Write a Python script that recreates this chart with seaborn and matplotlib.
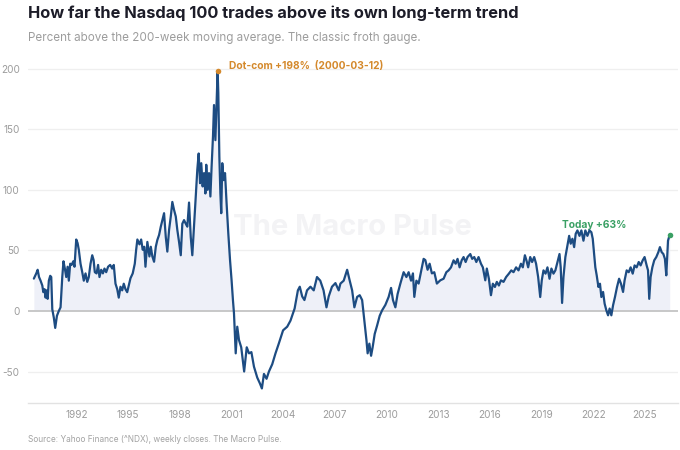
import numpy as np
import pandas as pd
import matplotlib
matplotlib.use("Agg")
import matplotlib.pyplot as plt
import seaborn as sns

# ---- data (decimal year, % above 200-week MA) ----
years = [
    # 1989-1995
    1989.52, 1989.66, 1989.74, 1989.82, 1989.91, 1990.01, 1990.07, 1990.14, 1990.20, 1990.26,
    1990.32, 1990.39, 1990.47, 1990.53, 1990.59, 1990.68, 1990.76, 1990.86, 1990.97, 1991.07,
    1991.17, 1991.24, 1991.32, 1991.40, 1991.48, 1991.55, 1991.63, 1991.71, 1991.81, 1991.88,
    1991.98, 1992.06, 1992.13, 1992.23, 1992.33, 1992.42, 1992.52, 1992.62, 1992.71, 1992.81,
    1992.91, 1992.99, 1993.06, 1993.16, 1993.25, 1993.33, 1993.43, 1993.53, 1993.62, 1993.72,
    1993.83, 1993.95, 1994.07, 1994.16, 1994.26, 1994.36, 1994.45, 1994.55, 1994.65, 1994.74,
    1994.84, 1994.94, 1995.03, 1995.13, 1995.26, 1995.38, 1995.46, 1995.53, 1995.65, 1995.75,
    1995.84, 1995.93,
    # 1996-2001
    1996.00, 1996.11, 1996.23, 1996.31, 1996.40, 1996.50, 1996.60, 1996.69, 1996.79, 1996.89,
    1996.98, 1997.08, 1997.18, 1997.27, 1997.37, 1997.47, 1997.56, 1997.66, 1997.76, 1997.85,
    1997.95, 1998.05, 1998.14, 1998.24, 1998.34, 1998.43, 1998.53, 1998.63, 1998.72, 1998.82,
    1998.92, 1999.01, 1999.09, 1999.17, 1999.24, 1999.32, 1999.40, 1999.48, 1999.53, 1999.61,
    1999.69, 1999.77, 1999.84, 1999.92, 1999.98, 2000.06, 2000.13, 2000.17, 2000.19, 2000.23,
    2000.29, 2000.35, 2000.40, 2000.46, 2000.54, 2000.62, 2000.71, 2000.81, 2000.91, 2001.00,
    2001.08,
    # 2001-2013
    2001.14, 2001.24, 2001.33, 2001.43, 2001.56, 2001.73, 2001.88, 2002.01, 2002.15, 2002.30,
    2002.49, 2002.65, 2002.76, 2002.88, 2003.03, 2003.17, 2003.36, 2003.55, 2003.74, 2003.99,
    2004.23, 2004.42, 2004.66, 2004.85, 2004.96, 2005.10, 2005.23, 2005.38, 2005.58, 2005.77,
    2005.96, 2006.15, 2006.34, 2006.51, 2006.64, 2006.83, 2007.03, 2007.22, 2007.32, 2007.51,
    2007.71, 2007.86, 2008.00, 2008.13, 2008.29, 2008.44, 2008.58, 2008.71, 2008.83, 2008.90,
    2009.00, 2009.10, 2009.19, 2009.31, 2009.45, 2009.60, 2009.74, 2009.93, 2010.12, 2010.26,
    2010.37, 2010.51, 2010.64, 2010.80, 2010.99, 2011.15, 2011.28, 2011.42, 2011.53, 2011.61,
    2011.73, 2011.86, 2012.02, 2012.15, 2012.25, 2012.38, 2012.50, 2012.63, 2012.77, 2012.92,
    # 2013-2026
    2013.12, 2013.31, 2013.47, 2013.60, 2013.74, 2013.89, 2014.01, 2014.12, 2014.24, 2014.36,
    2014.47, 2014.59, 2014.70, 2014.86, 2014.97, 2015.09, 2015.21, 2015.34, 2015.48, 2015.59,
    2015.73, 2015.82, 2015.94, 2016.06, 2016.17, 2016.29, 2016.40, 2016.52, 2016.64, 2016.79,
    2016.94, 2017.10, 2017.24, 2017.37, 2017.52, 2017.66, 2017.80, 2017.91, 2018.03, 2018.12,
    2018.22, 2018.34, 2018.45, 2018.57, 2018.68, 2018.80, 2018.92, 2019.01, 2019.11, 2019.23,
    2019.34, 2019.46, 2019.57, 2019.69, 2019.80, 2019.92, 2020.04, 2020.11, 2020.19, 2020.27,
    2020.38, 2020.50, 2020.60, 2020.69, 2020.79, 2020.89, 2020.98, 2021.08, 2021.20, 2021.31,
    2021.43, 2021.54, 2021.66, 2021.78, 2021.89, 2021.97, 2022.05, 2022.12, 2022.20, 2022.30,
    2022.39, 2022.47, 2022.57, 2022.66, 2022.76, 2022.86, 2022.95, 2023.05, 2023.15, 2023.26,
    2023.38, 2023.50, 2023.61, 2023.73, 2023.82, 2023.94, 2024.06, 2024.17, 2024.29, 2024.40,
    2024.52, 2024.64, 2024.75, 2024.87, 2024.98, 2025.10, 2025.18, 2025.25, 2025.33, 2025.43,
    2025.54, 2025.66, 2025.78, 2025.87, 2025.97, 2026.07, 2026.16, 2026.24, 2026.34, 2026.44,
]
pct_above = [
    # 1989-1995
    26.7, 31, 34, 28, 25, 21, 15.5, 18, 11, 17,
    10, 25, 29, 28, 1.4, -5.6, -14, -4, 0, 3,
    28, 41, 35, 28, 36.5, 25, 39, 38, 41, 36.5,
    59, 56, 50.5, 39, 32, 25, 31, 24, 28, 39,
    46, 42, 32, 31, 38, 28, 34, 31, 35, 32,
    36.5, 38, 35, 38, 22.5, 18, 11, 20, 17, 22.5,
    18, 15.5, 21, 27, 31, 39, 50.5, 59, 55, 59,
    50.5, 53,
    # 1996-2001
    36.5, 57, 45, 53, 45, 40.6, 53, 58.6, 62.7, 69.6,
    75, 80.7, 61, 49, 66.9, 78, 90, 83.4, 78, 66.9,
    57, 46, 72, 75, 72, 69.6, 89.5, 61, 46, 69.6,
    94.5, 116.6, 130, 105.5, 122, 102.8, 113.8, 97, 120.7, 100,
    113.8, 94.5, 119, 144, 170, 141, 173, 190, 198, 180,
    127.6, 97, 80.7, 122, 108, 113.8, 89, 64, 42, 25.4,
    8.8,
    # 2001-2013
    -2, -35, -13, -24, -30, -50, -30, -35, -34, -46,
    -55, -60, -64, -52, -56, -50, -44, -35, -27, -16,
    -13, -8, 2, 17, 20, 12, 9, 17, 20, 17,
    28, 25, 17, 3, 12, 20, 23, 17, 22.6, 25,
    34, 25, 17, 3, 11.6, 13, 9, -8, -24, -35,
    -27, -37, -30, -19, -12, -4, 0.5, 5, 11.6, 19,
    9, 3, 14, 22.6, 32, 28, 32, 25, 31, 11.6,
    25, 22.6, 34, 43, 42, 34, 39, 31, 32, 22.6,
    # 2013-2026
    25.3, 26.6, 32, 33.5, 36, 41.8, 39, 43, 36, 41.8,
    44.5, 40.4, 44.5, 47, 43, 44.5, 40.4, 44.5, 39, 36,
    25.3, 35, 26.6, 13, 22.5, 19.8, 24, 21, 25.3, 24,
    28, 30.8, 33.5, 32, 36, 33.5, 39, 36, 46, 41.8,
    36, 44.5, 40.4, 44.5, 39, 28, 11.5, 25.3, 33.5, 30.8,
    36, 26.6, 35, 30.8, 33.5, 40.4, 47, 36, 6.6, 28,
    44.5, 54, 62, 55.5, 59.6, 52.7, 63.7, 66.5, 62, 66.5,
    58, 66.5, 62, 66.5, 65, 59.6, 47, 36, 29.4, 19.8,
    22.5, 11.5, 15.7, 6, 0.5, -3.6, 2, -3.6, 4.7, 11.5,
    19.8, 26.6, 22.5, 15.7, 25.3, 33.5, 32, 36, 30.8, 37.6,
    36, 40.4, 37.6, 41.8, 44.5, 37.6, 33.5, 10, 28, 36,
    41.8, 44.5, 48.6, 52.7, 48.6, 47, 43, 29.4, 58, 63,
]
tick_years = [1992, 1995, 1998, 2001, 2004, 2007, 2010, 2013, 2016, 2019, 2022, 2025]
y_ticks = [-50, 0, 50, 100, 150, 200]
peak_year, peak_value = 2000.19, 198
today_year, today_value = 2026.44, 63

df = pd.DataFrame({"year": years, "pct": pct_above})

sns.set_theme(style="white")
plt.rcParams["font.family"] = ["Inter", "DejaVu Sans"]
plt.rcParams["axes.unicode_minus"] = False

fig = plt.figure(figsize=(6.8, 4.5), dpi=100)
ax = fig.add_axes([28 / 680, 1 - 403 / 450, 650 / 680, 346.4 / 450])

LINE = "#1d4c82"
ax.fill_between(df["year"], 0, df["pct"].clip(lower=0), color="#eef0f8", lw=0, zorder=1)
sns.lineplot(data=df, x="year", y="pct", ax=ax, color=LINE, lw=1.6, zorder=4)

ax.set_xlim(1989.18, 2026.92)
ax.set_ylim(-76, 210)
ax.set_xticks(tick_years)
ax.set_xticklabels([str(t) for t in tick_years])
ax.set_yticks(y_ticks)
ax.set_yticklabels([str(t) for t in y_ticks])
ax.set_xlabel("")
ax.set_ylabel("")

for v in y_ticks:
    if v == 0:
        ax.axhline(0, color="#c4c4c4", lw=1.3, zorder=3)
    else:
        ax.axhline(v, color="#efefef", lw=0.9, zorder=0)

for s in ["top", "right", "left"]:
    ax.spines[s].set_visible(False)
ax.spines["bottom"].set_color("#e2e2e2")
ax.spines["bottom"].set_linewidth(1.0)
ax.tick_params(axis="both", length=0, labelsize=7.2, labelcolor="#9c9c9c")
ax.tick_params(axis="y", pad=6)
ax.tick_params(axis="x", pad=5)

# watermark
ax.text(2008.0, 68.6, "The Macro Pulse", fontsize=21, fontweight="bold",
        color="#f3f3f5", ha="center", va="center", zorder=2)

# annotations
ax.scatter([peak_year], [peak_value], s=16, color="#d4892c", zorder=6, lw=0)
ax.annotate("Dot-com +198%  (2000-03-12)", xy=(peak_year, peak_value),
            xytext=(8.5, 4), textcoords="offset points", ha="left", va="center",
            fontsize=7.35, fontweight="bold", color="#d4892c")
ax.scatter([today_year], [today_value], s=16, color="#3aa064", zorder=6, lw=0)
ax.annotate("Today +63%", xy=(today_year, today_value),
            xytext=(-31, 7.2), textcoords="offset points", ha="right", va="center",
            fontsize=7.35, fontweight="bold", color="#3aa064")

fig.text(28 / 680, 1 - 13 / 450, "How far the Nasdaq 100 trades above its own long-term trend",
         fontsize=11.8, fontweight="bold", color="#1c1c28", ha="left", va="center")
fig.text(28 / 680, 1 - 38 / 450, "Percent above the 200-week moving average. The classic froth gauge.",
         fontsize=8.4, color="#9d9d9d", ha="left", va="center")
fig.text(28 / 680, 1 - 440 / 450, "Source: Yahoo Finance (^NDX), weekly closes. The Macro Pulse.",
         fontsize=6.0, color="#a3a3a3", ha="left", va="center")

fig.savefig("out.png", dpi=100)
